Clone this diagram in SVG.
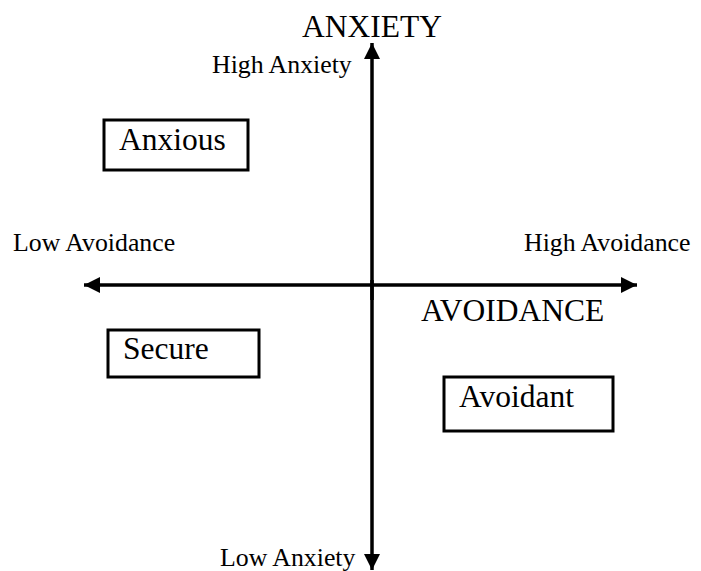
<svg xmlns="http://www.w3.org/2000/svg" width="701" height="571" viewBox="0 0 701 571">
<defs>
<style>
.t{font-family:"Liberation Serif","Times New Roman","DejaVu Serif",serif;fill:#000}
.big{font-size:31.5px}
.sm{font-size:25.8px}
.box{fill:#fff;stroke:#000;stroke-width:3}
.ax{stroke:#000;stroke-width:3.5;fill:none}
</style>
<marker id="ah" viewBox="0 0 16 16" refX="16" refY="8" markerWidth="16" markerHeight="16" markerUnits="userSpaceOnUse" orient="auto">
<path d="M0,0 L16,8 L0,16 Z" fill="#000"/>
</marker>
</defs>
<g id="connectors">
<line class="ax" x1="372" y1="300" x2="372" y2="43" marker-end="url(#ah)"/>
<line class="ax" x1="372" y1="280" x2="372" y2="570" marker-end="url(#ah)"/>
<line class="ax" x1="372" y1="285" x2="84" y2="285" marker-end="url(#ah)"/>
<line class="ax" x1="372" y1="285" x2="637" y2="285" marker-end="url(#ah)"/>
</g>
<g id="label-anxiety"><text class="t big" x="302" y="37">ANXIETY</text></g>
<g id="label-high-anxiety"><text class="t sm" x="212" y="73">High Anxiety</text></g>
<g id="label-low-anxiety"><text class="t sm" x="220" y="566">Low Anxiety</text></g>
<g id="label-low-avoidance"><text class="t sm" x="13" y="251">Low Avoidance</text></g>
<g id="label-high-avoidance"><text class="t sm" x="524" y="251">High Avoidance</text></g>
<g id="label-avoidance"><text class="t big" x="421" y="321">AVOIDANCE</text></g>
<g id="node-anxious">
<rect class="box" x="104" y="120" width="144" height="50"/>
<text class="t big" x="119" y="150">Anxious</text>
</g>
<g id="node-secure">
<rect class="box" x="108" y="330" width="151" height="47"/>
<text class="t big" x="123" y="359">Secure</text>
</g>
<g id="node-avoidant">
<rect class="box" x="444" y="377" width="169" height="54"/>
<text class="t big" x="459" y="407">Avoidant</text>
</g>
</svg>
